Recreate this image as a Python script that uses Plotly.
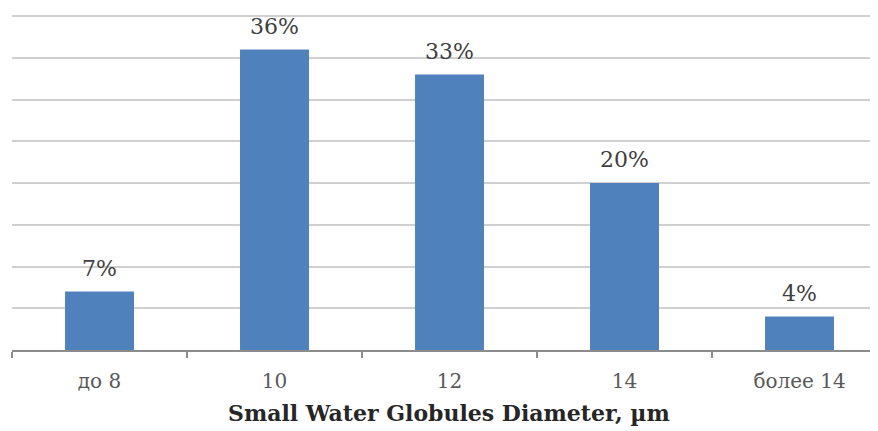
import plotly.graph_objects as go

categories = ["до 8", "10", "12", "14", "более 14"]
values = [7, 36, 33, 20, 4]
labels = ["7%", "36%", "33%", "20%", "4%"]
x_title = "Small Water Globules Diameter, µm"

# page body has an 8px default margin; size the figure to fill the rest of the window
OFF = 8
W, H = 878 - OFF, 431 - OFF
ml, mr, mt, mb = 12 - OFF, 0, 12 - OFF, 81
y_top = 40.5

fig = go.Figure()
fig.add_trace(go.Bar(
    x=categories, y=values,
    marker=dict(color="#4F81BD", line=dict(width=0)),
    hoverinfo="skip",
))

for i, (v, t) in enumerate(zip(values, labels)):
    fig.add_annotation(
        x=i, y=v, xref="x", yref="y", text=t, showarrow=False,
        yanchor="bottom", yshift=9,
        font=dict(family="DejaVu Serif", size=22, color="#404040"),
    )

plot_w = W - ml - mr
plot_h = H - mt - mb
title_x = (449 - 12) / plot_w
fig.add_annotation(
    x=title_x, y=(350 - 413) / plot_h, xref="paper", yref="paper", text=x_title,
    showarrow=False, xanchor="center", yanchor="middle",
    font=dict(family="DejaVu Serif", size=22, color="#262626", weight="bold"),
)

fig.update_layout(
    width=W, height=H,
    margin=dict(l=ml, r=mr, t=mt, b=mb, pad=0),
    paper_bgcolor="white", plot_bgcolor="white",
    bargap=0.606,
    showlegend=False,
    xaxis=dict(
        type="category",
        range=[-0.5, -0.5 + plot_w / 175.0],
        showline=True, linecolor="#8c8c8c", linewidth=1.5,
        ticks="outside", tickson="boundaries", ticklen=6, tickcolor="#8c8c8c", tickwidth=1.5,
        tickfont=dict(family="DejaVu Serif", size=20, color="#595959"),
        ticklabelstandoff=12,
        showgrid=False, zeroline=False, fixedrange=True,
    ),
    yaxis=dict(
        range=[0, y_top], tick0=0, dtick=5, showticklabels=False,
        showgrid=True, gridcolor="#d0d0d0", gridwidth=1.5,
        zeroline=False, showline=False, ticks="", fixedrange=True,
    ),
)

fig.write_html("out.html")
